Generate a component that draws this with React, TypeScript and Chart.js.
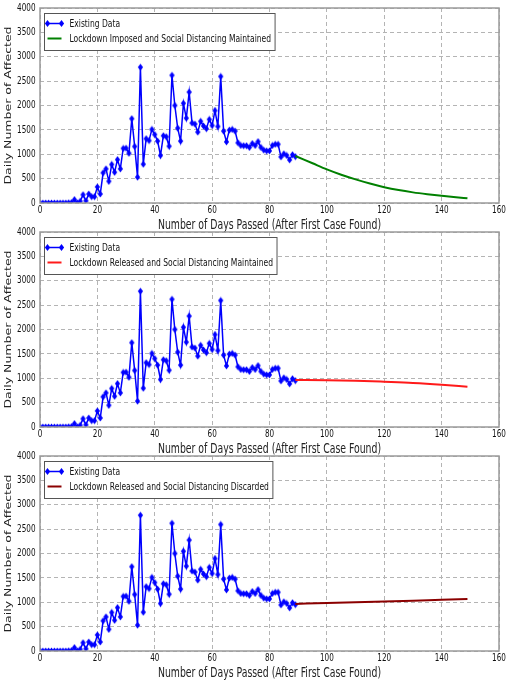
import React, { useEffect, useRef } from "react";
import { Chart, registerables } from "chart.js";
Chart.register(...registerables);

const existingDays = [
  0, 1, 2, 3, 4, 5, 6, 7, 8, 9, 10, 11, 12, 13, 14, 15, 16, 17, 18, 19,
  20, 21, 22, 23, 24, 25, 26, 27, 28, 29, 30, 31, 32, 33, 34, 35, 36, 37, 38, 39,
  40, 41, 42, 43, 44, 45, 46, 47, 48, 49, 50, 51, 52, 53, 54, 55, 56, 57, 58, 59,
  60, 61, 62, 63, 64, 65, 66, 67, 68, 69, 70, 71, 72, 73, 74, 75, 76, 77, 78, 79,
  80, 81, 82, 83, 84, 85, 86, 87, 88, 89,
];
const existingCases = [
  0, 0, 0, 0, 0, 0, 0, 0, 2, 1, 5, 10, 70, 5, 35, 170, 45, 185, 130, 130,
  330, 185, 620, 700, 445, 790, 630, 890, 700, 1120, 1125, 1020, 1730, 1160, 530, 2785, 795, 1320, 1280, 1510,
  1405, 1270, 975, 1380, 1360, 1165, 2620, 2000, 1535, 1270, 2045, 1740, 2275, 1640, 1620, 1455, 1675, 1580, 1525, 1715,
  1590, 1895, 1570, 2595, 1475, 1255, 1495, 1510, 1475, 1235, 1180, 1175, 1175, 1140, 1220, 1180, 1260, 1140, 1085, 1070,
  1070, 1180, 1205, 1205, 945, 1010, 975, 885, 990, 950,
];

const imposedDays = [89, 95, 100, 105, 110, 115, 120, 125, 130, 135, 140, 145, 149];
const imposedCases = [965, 815, 690, 580, 485, 400, 325, 265, 218, 180, 147, 118, 98];

const releasedDays = [89, 100, 110, 120, 130, 140, 149];
const releasedCases = [966, 960, 948, 928, 905, 868, 825];

const discardedDays = [89, 100, 110, 120, 130, 140, 149];
const discardedCases = [966, 985, 1000, 1015, 1032, 1052, 1068];

const xTickStep = 20;
const yTickStep = 500;
const xTitle = "Number of Days Passed (After First Case Found)";
const yTitle = "Daily Number of Affected";
const existingLabel = "Existing Data";

const FONT = '"DejaVu Sans", sans-serif';
const SQUEEZE = 0.69;

type Panel = {
  label: string;
  color: string;
  days: number[];
  cases: number[];
};

const panels: Panel[] = [
  { label: "Lockdown Imposed and Social Distancing Maintained", color: "#008000", days: imposedDays, cases: imposedCases },
  { label: "Lockdown Released and Social Distancing Maintained", color: "#ff1a1a", days: releasedDays, cases: releasedCases },
  { label: "Lockdown Released and Social Distancing Discarded", color: "#8b0000", days: discardedDays, cases: discardedCases },
];

function drawDiamond(ctx: CanvasRenderingContext2D, x: number, y: number, rx: number, ry: number) {
  ctx.beginPath();
  ctx.moveTo(x, y - ry);
  ctx.lineTo(x + rx, y);
  ctx.lineTo(x, y + ry);
  ctx.lineTo(x - rx, y);
  ctx.closePath();
  ctx.fill();
}

function makeMarker(): HTMLCanvasElement {
  const c = document.createElement("canvas");
  c.width = 7;
  c.height = 8;
  const ctx = c.getContext("2d")!;
  ctx.fillStyle = "#0000ff";
  drawDiamond(ctx, 3.5, 4, 2.6, 3.6);
  return c;
}

function squeezedText(
  ctx: CanvasRenderingContext2D,
  text: string,
  x: number,
  y: number,
  align: CanvasTextAlign,
  rotate = false
) {
  ctx.save();
  ctx.translate(x, y);
  ctx.scale(SQUEEZE, 1);
  if (rotate) ctx.rotate(-Math.PI / 2);
  ctx.textAlign = align;
  ctx.textBaseline = "middle";
  ctx.fillText(text, 0, 0);
  ctx.restore();
}

function makePlugin(panel: Panel) {
  return {
    id: "frameLegend",
    afterDraw(chart: any) {
      const { ctx, chartArea: a } = chart;
      const xs = chart.scales.x;
      const ys = chart.scales.y;
      ctx.save();
      ctx.strokeStyle = "#9a9a9a";
      ctx.lineWidth = 1.5;
      ctx.strokeRect(a.left, a.top, a.right - a.left, a.bottom - a.top);

      // tick labels
      ctx.fillStyle = "#111";
      ctx.font = `10.5px ${FONT}`;
      xs.ticks.forEach((t: any) => {
        squeezedText(ctx, String(t.value), xs.getPixelForValue(t.value), a.bottom + 7.5, "center");
      });
      ys.ticks.forEach((t: any) => {
        squeezedText(ctx, String(t.value), a.left - 4.5, ys.getPixelForValue(t.value), "right");
      });

      // axis titles
      ctx.fillStyle = "#222";
      ctx.font = `13.5px ${FONT}`;
      squeezedText(ctx, xTitle, (a.left + a.right) / 2, a.bottom + 22, "center");
      ctx.font = `12.5px ${FONT}`;
      squeezedText(ctx, yTitle, 9, (a.top + a.bottom) / 2, "center", true);

      // legend
      ctx.font = `11px ${FONT}`;
      const items = [existingLabel, panel.label];
      const tw = Math.max(...items.map((t) => ctx.measureText(t).width)) * SQUEEZE;
      const bx = a.left + 4.5;
      const by = a.top + 5.5;
      const bw = 25 + tw + 4;
      const bh = 37;
      ctx.fillStyle = "#ffffff";
      ctx.fillRect(bx, by, bw, bh);
      ctx.strokeStyle = "#555555";
      ctx.lineWidth = 1;
      ctx.strokeRect(bx, by, bw, bh);

      const y1 = by + 10;
      const y2 = by + 25;
      ctx.strokeStyle = "#0000ff";
      ctx.fillStyle = "#0000ff";
      ctx.lineWidth = 1.5;
      ctx.beginPath();
      ctx.moveTo(bx + 3, y1);
      ctx.lineTo(bx + 17, y1);
      ctx.stroke();
      drawDiamond(ctx, bx + 3, y1, 2.6, 3.4);
      drawDiamond(ctx, bx + 17, y1, 2.6, 3.4);

      ctx.strokeStyle = panel.color;
      ctx.lineWidth = 2;
      ctx.beginPath();
      ctx.moveTo(bx + 3, y2);
      ctx.lineTo(bx + 17, y2);
      ctx.stroke();

      ctx.fillStyle = "#111";
      squeezedText(ctx, items[0], bx + 25, y1 + 0.5, "left");
      squeezedText(ctx, items[1], bx + 25, y2 + 0.5, "left");
      ctx.restore();
    },
  };
}

function ChartPanel({ panel, top }: { panel: Panel; top: number }) {
  const ref = useRef<HTMLCanvasElement | null>(null);
  useEffect(() => {
    if (!ref.current) return;
    const grid = { color: "#b4b4b4", lineWidth: 1, drawTicks: false };
    const border = { display: false, dash: [4, 3] };
    const marker = makeMarker();
    const chart = new Chart(ref.current, {
      type: "line",
      data: {
        datasets: [
          {
            label: panel.label,
            data: panel.days.map((d, i) => ({ x: d, y: panel.cases[i] })),
            borderColor: panel.color,
            backgroundColor: panel.color,
            borderWidth: 2,
            pointRadius: 0,
            cubicInterpolationMode: "monotone",
          },
          {
            label: existingLabel,
            data: existingDays.map((d, i) => ({ x: d, y: existingCases[i] })),
            borderColor: "#0000ff",
            backgroundColor: "#0000ff",
            borderWidth: 1.5,
            pointStyle: marker,
            pointRadius: 3,
            pointBorderWidth: 0,
            tension: 0,
          },
        ],
      },
      options: {
        responsive: false,
        animation: false,
        devicePixelRatio: 1,
        layout: { padding: { top: 8, right: 8, left: 0, bottom: 0 } },
        plugins: { legend: { display: false }, tooltip: { enabled: false } },
        scales: {
          x: {
            type: "linear",
            min: 0,
            max: 160,
            ticks: { stepSize: xTickStep, display: false },
            grid,
            border,
            title: { display: false },
            afterFit: (s: any) => {
              s.height = 29;
            },
          },
          y: {
            type: "linear",
            min: 0,
            max: 4000,
            ticks: { stepSize: yTickStep, display: false },
            grid,
            border,
            title: { display: false },
            afterFit: (s: any) => {
              s.width = 40;
            },
          },
        },
      },
      plugins: [makePlugin(panel)],
    } as any);
    return () => chart.destroy();
  }, [panel]);
  return (
    <canvas
      ref={ref}
      width={507}
      height={232}
      style={{ position: "absolute", left: 0, top, width: 507, height: 232 }}
    />
  );
}

export default function App() {
  return (
    <div style={{ position: "absolute", left: 0, top: 0, width: 507, height: 688, background: "#fff" }}>
      {panels.map((p, i) => (
        <ChartPanel key={i} panel={p} top={i * 224} />
      ))}
    </div>
  );
}
